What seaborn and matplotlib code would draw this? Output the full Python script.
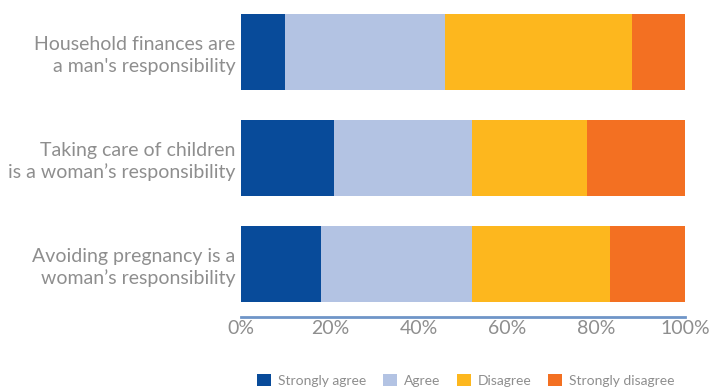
import matplotlib
matplotlib.use("Agg")
import matplotlib.pyplot as plt
from matplotlib.patches import Patch
import numpy as np
import pandas as pd
import seaborn as sns

statements = [
    "Household finances are\na man's responsibility",
    "Taking care of children\nis a woman\u2019s responsibility",
    "Avoiding pregnancy is a\nwoman\u2019s responsibility",
]
levels = ["Strongly agree", "Agree", "Disagree", "Strongly disagree"]
strongly_agree = [10, 21, 18]
agree = [36, 31, 34]
disagree = [42, 26, 31]
strongly_disagree = [12, 22, 17]
colors = ["#084B9A", "#B3C3E3", "#FDB71E", "#F37022"]
text_color = "#8E8E8E"

sns.set_theme(style="white")
plt.rcParams["font.family"] = ["Lato", "DejaVu Sans"]

shares = np.array([strongly_agree, agree, disagree, strongly_disagree], dtype=float)
cum = np.cumsum(shares, axis=0)

fig = plt.figure(figsize=(7.11, 3.89), dpi=100)
ax = fig.add_axes([0.339, 0.185, 0.6244, 0.818])

# Stack by overlaying cumulative totals, widest first
for i in range(len(levels) - 1, -1, -1):
    df = pd.DataFrame({"statement": statements, "value": cum[i]})
    sns.barplot(data=df, x="value", y="statement", color=colors[i],
                width=0.717, saturation=1, ax=ax, orient="h",
                linewidth=0, edgecolor="none")

ax.set_xlim(0, 100)
ax.set_ylim(2.5, -0.5)
ax.set_xlabel("")
ax.set_ylabel("")
ax.set_xticks([0, 20, 40, 60, 80, 100])
ax.set_xticklabels([f"{t}%" for t in [0, 20, 40, 60, 80, 100]])
ax.tick_params(axis="x", colors=text_color, labelsize=14, length=0, pad=2)
ax.tick_params(axis="y", colors=text_color, labelsize=14, length=0, pad=4)
for lbl in ax.get_yticklabels():
    lbl.set_horizontalalignment("right")
    lbl.set_multialignment("right")
    lbl.set_linespacing(1.3)

for side in ["top", "right", "left"]:
    ax.spines[side].set_visible(False)
ax.spines["bottom"].set_color("#6F95C8")
ax.spines["bottom"].set_linewidth(2)

handles = [Patch(facecolor=c, edgecolor="none") for c in colors]
leg = fig.legend(handles, levels, loc="center", bbox_to_anchor=(0.655, 0.023),
                 ncol=4, frameon=False, fontsize=10, handlelength=1.0,
                 handleheight=1.0, handletextpad=0.5, columnspacing=1.2)
for t in leg.get_texts():
    t.set_color(text_color)

fig.savefig("out.png", dpi=100)
